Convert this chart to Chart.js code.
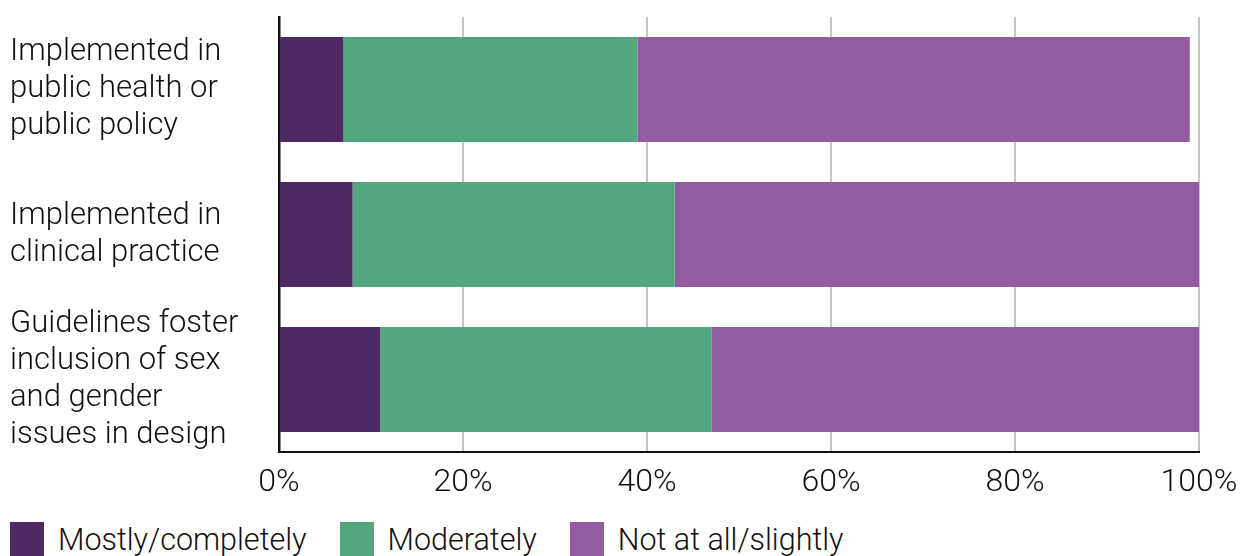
<!DOCTYPE html>
<html>
<head>
<meta charset="utf-8">
<script src="https://cdn.jsdelivr.net/npm/chart.js@4/dist/chart.umd.min.js"></script>
<style>
  html, body { margin: 0; padding: 0; background: #fff; overflow: hidden; }
  #wrap { position: relative; width: 1250px; height: 556px; overflow: hidden; }
  #box { position: absolute; left: 0; top: 0; width: 1250px; height: 510px; }
  #legend { position: absolute; left: 10px; top: 522px; display: flex; align-items: flex-start;
            font-family: Roboto, "Liberation Sans", sans-serif; font-weight: 300; font-size: 30.5px; color: #111; }
  .item { display: flex; align-items: flex-start; }
  .sw { width: 34px; height: 40px; margin-right: 14px; }
  .lbl { line-height: 34px; margin-top: 1px; white-space: nowrap; }
</style>
</head>
<body>
<div id="wrap">
  <div id="box"><canvas id="c"></canvas></div>
  <div id="legend"></div>
</div>
<script>
// Survey items (one per bar) and the share of answers in each group, in percent
const categories = [
  ["Implemented in", "public health or", "public policy"],
  ["Implemented in", "clinical practice"],
  ["Guidelines foster", "inclusion of sex", "and gender", "issues in design"]
];
const mostlyCompletely = [7, 8, 11];
const moderately = [32, 35, 36];
const notAtAllSlightly = [60, 57, 53];
const xTicks = [0, 20, 40, 60, 80, 100];
const seriesNames = ["Mostly/completely", "Moderately", "Not at all/slightly"];
const seriesColors = ["#4f2963", "#52a680", "#935ba0"];

const FAMILY = "Roboto, 'Liberation Sans', sans-serif";

const chart = new Chart(document.getElementById('c'), {
  type: 'bar',
  data: {
    labels: categories,
    datasets: [mostlyCompletely, moderately, notAtAllSlightly].map((d, i) => ({
      label: seriesNames[i],
      data: d,
      backgroundColor: seriesColors[i],
      borderWidth: 0,
      categoryPercentage: 1,
      barPercentage: 0.724
    }))
  },
  options: {
    indexAxis: 'y',
    responsive: true,
    maintainAspectRatio: false,
    animation: false,
    layout: { padding: { left: 10, right: 51, top: 17, bottom: 0 } },
    plugins: { legend: { display: false }, tooltip: { enabled: false } },
    scales: {
      x: {
        stacked: true,
        min: 0, max: 100,
        afterBuildTicks: s => { s.ticks = xTicks.map(v => ({ value: v })); },
        afterFit: s => { s.height = 58; s.paddingLeft = 0; s.paddingRight = 0; },
        grid: { color: '#c6c6c6', lineWidth: 2, drawTicks: false },
        border: { color: '#111', width: 2 },
        ticks: { color: '#111', font: { family: FAMILY, size: 32, weight: 300 }, padding: 12, maxRotation: 0, autoSkip: false, callback: v => v + '%' }
      },
      y: {
        stacked: true,
        afterFit: s => { s.width = 269; s.paddingTop = 0; s.paddingBottom = 0; },
        grid: { display: false },
        border: { color: '#111', width: 2.5 },
        ticks: { color: '#111', font: { family: FAMILY, size: 31, weight: 300, lineHeight: 1.19 }, crossAlign: 'far', padding: 10, autoSkip: false }
      }
    }
  }
});

// Legend built from the chart's own datasets
const legend = document.getElementById('legend');
chart.data.datasets.forEach((ds, i) => {
  const item = document.createElement('div');
  item.className = 'item';
  item.style.marginRight = '33px';
  const sw = document.createElement('div');
  sw.className = 'sw';
  sw.style.background = ds.backgroundColor;
  const lbl = document.createElement('div');
  lbl.className = 'lbl';
  lbl.textContent = ds.label;
  item.appendChild(sw);
  item.appendChild(lbl);
  legend.appendChild(item);
});
</script>
</body>
</html>
